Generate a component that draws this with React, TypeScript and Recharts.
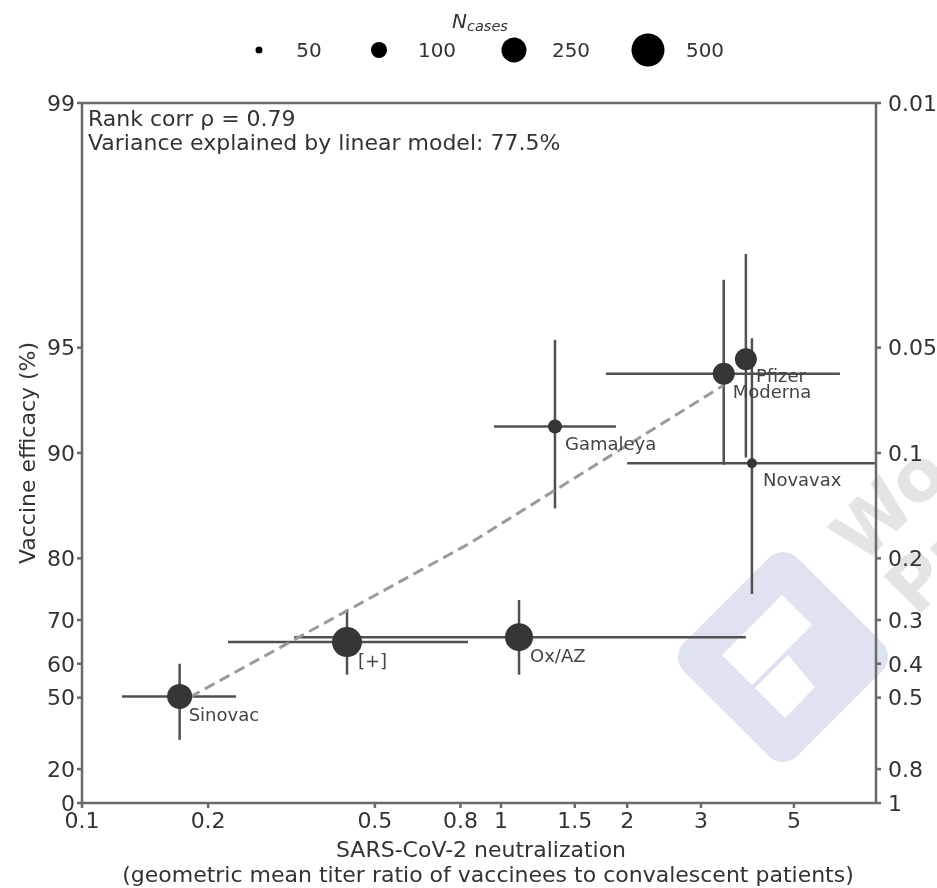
import {
  ScatterChart,
  Scatter,
  XAxis,
  YAxis,
  ZAxis,
  ErrorBar,
  LabelList,
  ReferenceLine,
} from 'recharts';

const FONT = '"DejaVu Sans", sans-serif';
const INK = '#505050';
const AXIS = '#6a6a6a';
const TEXT = '#333';

// values
const vaccines = ['Sinovac', '[+]', 'Ox/AZ', 'Gamaleya', 'Moderna', 'Pfizer', 'Novavax'];
const titer = [0.171, 0.429, 1.104, 1.345, 3.4, 3.84, 3.97];
const titerLow = [0.1246, 0.223, 0.321, 0.962, 1.78, 3.84, 2.0];
const titerHigh = [0.233, 0.834, 3.84, 1.88, 6.44, 3.84, 7.85];
const efficacy = [50.4, 65.3, 66.4, 91.6, 94.06, 94.6, 89.3];
const efficacyLow = [34, 57, 57, 85.6, 89.2, 89.7, 74.7];
const efficacyHigh = [60, 72, 73.7, 95.25, 96.8, 97.3, 95.3];
const cases = [300, 418, 368, 114, 238, 238, 72];

const fitTiter = [0.181, 0.843, 3.4];
const fitEfficacy = [50.2, 81.9, 93.6];

const xTicks = [0.1, 0.2, 0.5, 0.8, 1, 1.5, 2, 3, 5];
const riskTicks = [0.01, 0.05, 0.1, 0.2, 0.3, 0.4, 0.5, 0.8, 1];

const legendCases = [50, 100, 250, 500];

const points = vaccines.map((name, i) => {
  const risk = 1 - efficacy[i] / 100;
  return {
    name,
    x: titer[i],
    y: risk,
    z: cases[i],
    errX: [titer[i] - titerLow[i], titerHigh[i] - titer[i]],
    errY: [risk - (1 - efficacyHigh[i] / 100), 1 - efficacyLow[i] / 100 - risk],
  };
});

const fit = fitTiter.map((x, i) => ({ x, y: 1 - fitEfficacy[i] / 100 }));

// where each name sits relative to its marker
const labelShift: Record<string, [number, number]> = {
  Sinovac: [9, 25],
  '[+]': [11, 25],
  'Ox/AZ': [11, 25],
  Gamaleya: [10, 24],
  Moderna: [9, 24],
  Pfizer: [10, 23],
  Novavax: [11, 23],
};

const legendX = [259, 379, 514, 648];
const legendTextX = [309, 437, 571, 705];
const legendR = [3.5, 8, 12.5, 16.5];

const tickStyle = { fontSize: 22, fontFamily: FONT, fill: TEXT };

function VaccineLabel(props: any) {
  const { x, y, width, height, value } = props;
  const [dx, dy] = labelShift[value];
  return (
    <text
      x={x + width / 2 + dx}
      y={y + height / 2 + dy}
      fontSize={18}
      fontFamily={FONT}
      fill="#444"
    >
      {value}
    </text>
  );
}

function Overlay() {
  return (
    <svg
      width={937}
      height={888}
      style={{ position: 'absolute', left: 0, top: 0, pointerEvents: 'none' }}
      fontFamily={FONT}
    >
      <text x={452} y={28} fontSize={20} fontStyle="italic" fill={TEXT}>
        N
        <tspan fontSize={14.5} dy={3}>cases</tspan>
      </text>
      {legendCases.map((c, i) => (
        <g key={c}>
          <circle cx={legendX[i]} cy={50} r={legendR[i]} fill="#000" />
          <text x={legendTextX[i]} y={57} fontSize={20} fill={TEXT} textAnchor="middle">
            {c}
          </text>
        </g>
      ))}
      <text x={88} y={126} fontSize={22} fill={TEXT}>Rank corr ρ = 0.79</text>
      <text x={88} y={150} fontSize={22} fill={TEXT}>Variance explained by linear model: 77.5%</text>
      <text x={481} y={857} fontSize={22} fill={TEXT} textAnchor="middle">SARS-CoV-2 neutralization</text>
      <text x={488} y={882} fontSize={22} fill={TEXT} textAnchor="middle">
        (geometric mean titer ratio of vaccinees to convalescent patients)
      </text>
    </svg>
  );
}

function Watermark() {
  return (
    <svg width={937} height={888} style={{ position: 'absolute', left: 0, top: 0 }}>
      <text x={862} y={566} transform="rotate(-45 862 566)" fontSize={72} fontWeight="bold" fontFamily={FONT} fill="#e4e4e4">Wo</text>
      <text x={916} y={618} transform="rotate(-45 916 618)" fontSize={72} fontWeight="bold" fontFamily={FONT} fill="#e4e4e4">Pr</text>
      <polygon
        points="783,572 868,657 783,742 698,657"
        fill="#dfe2f0"
        stroke="#dfe2f0"
        strokeWidth={40}
        strokeLinejoin="round"
      />
      <polygon points="782,595 812,625 752,685 722,655" fill="#fff" />
      <polygon points="788,655 815,687 785,718 755,688" fill="#fff" />
    </svg>
  );
}

export default function App() {
  return (
    <div style={{ position: 'absolute', left: 0, top: 0, width: 937, height: 888, background: '#fff', overflow: 'hidden', filter: 'blur(0.6px)' }}>
      <Watermark />
      <div style={{ position: 'absolute', left: 0, top: 0 }}>
        <ScatterChart
          width={937}
          height={888}
          margin={{ top: 103, right: 11, bottom: 55, left: 32 }}
        >
          <XAxis
            dataKey="x"
            type="number"
            scale="log"
            domain={[0.1, 7.85]}
            ticks={xTicks}
            interval={0}
            allowDataOverflow
            height={30}
            tick={tickStyle}
            tickSize={5}
            tickMargin={4}
            stroke={AXIS}
            strokeWidth={2.5}
          />
          <YAxis
            yAxisId="left"
            dataKey="y"
            type="number"
            scale="log"
            domain={[0.01, 1]}
            reversed
            ticks={riskTicks}
            interval={0}
            allowDataOverflow
            width={50}
            tickFormatter={(v: number) => String(Math.round(100 * (1 - v)))}
            tick={tickStyle}
            tickSize={5}
            stroke={AXIS}
            strokeWidth={2.5}
            label={{
              value: 'Vaccine efficacy (%)',
              angle: -90,
              position: 'left',
              offset: 5,
              textAnchor: 'middle',
              fontSize: 22,
              fontFamily: FONT,
              fill: TEXT,
            }}
          />
          <YAxis
            yAxisId="right"
            orientation="right"
            type="number"
            scale="log"
            domain={[0.01, 1]}
            reversed
            ticks={riskTicks}
            interval={0}
            allowDataOverflow
            width={50}
            tick={tickStyle}
            tickSize={5}
            tickMargin={7}
            stroke={AXIS}
            strokeWidth={2.5}
          />
          <ZAxis dataKey="z" type="number" domain={[50, 500]} range={[38, 855]} />
          <ReferenceLine yAxisId="left" y={0.01} stroke={AXIS} strokeWidth={2.5} />
          <Scatter
            yAxisId="left"
            data={fit}
            isAnimationActive={false}
            shape={() => <g />}
            line={{ stroke: '#9a9a9a', strokeWidth: 3, strokeDasharray: '11 6' }}
          />
          <Scatter yAxisId="left" data={points} fill="#363636" isAnimationActive={false}>
            <ErrorBar dataKey="errX" direction="x" width={0} strokeWidth={2.5} stroke={INK} isAnimationActive={false} />
            <ErrorBar dataKey="errY" direction="y" width={0} strokeWidth={2.5} stroke={INK} isAnimationActive={false} />
            <LabelList dataKey="name" content={<VaccineLabel />} />
          </Scatter>
        </ScatterChart>
      </div>
      <Overlay />
    </div>
  );
}
